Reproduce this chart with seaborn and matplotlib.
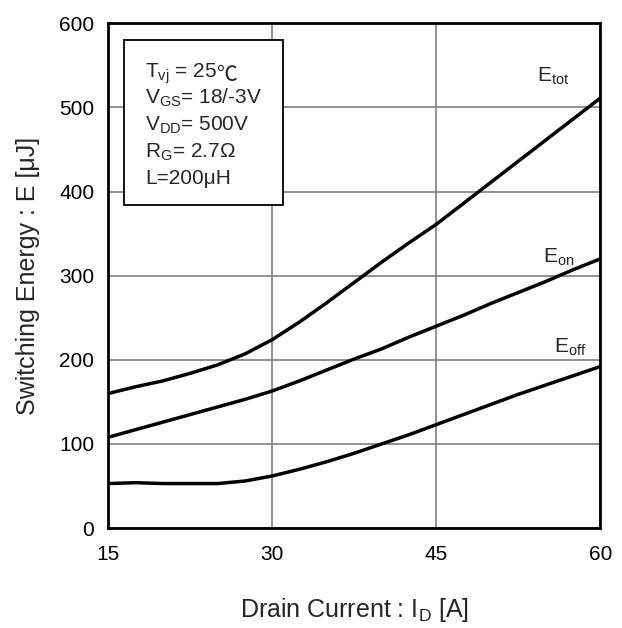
import pandas as pd
import numpy as np
import seaborn as sns
import matplotlib.pyplot as plt
from matplotlib.patches import Rectangle

# drain current [A]
current = [15, 17.5, 20, 22.5, 25, 27.5, 30, 32.5, 35, 37.5, 40,
           42.5, 45, 47.5, 50, 52.5, 55, 57.5, 60]
# switching energies [uJ]
e_tot = [160, 168, 175, 184, 194, 207, 224, 245, 268, 292, 316,
         339, 361, 386, 411, 436, 461, 486, 511]
e_on = [108, 117, 126, 135, 144, 153, 163, 175, 188, 201, 213,
        227, 240, 253, 267, 280, 293, 307, 320]
e_off = [53, 54, 53, 53, 53, 56, 62, 70, 79, 89, 100,
         111, 123, 135, 147, 159, 170, 181, 192]

x_ticks = [15, 30, 45, 60]
y_ticks = [0, 100, 200, 300, 400, 500, 600]

sns.set_theme(style='white')
plt.rcParams['font.family'] = ['Liberation Sans', 'DejaVu Sans']
plt.rcParams['mathtext.fontset'] = 'custom'
plt.rcParams['mathtext.rm'] = 'Liberation Sans'
plt.rcParams['mathtext.it'] = 'Liberation Sans'

df = pd.DataFrame({'I': current, 'Etot': e_tot, 'Eon': e_on, 'Eoff': e_off})

fig = plt.figure(figsize=(6.22, 6.28), dpi=100)
ax = fig.add_axes([0.174, 0.159, 0.791, 0.804])

for col in ['Etot', 'Eon', 'Eoff']:
    sns.lineplot(data=df, x='I', y=col, ax=ax, color='black', linewidth=2.5)

ax.set_xlim(15, 60)
ax.set_ylim(0, 600)
ax.set_xticks(x_ticks)
ax.set_yticks(y_ticks)
ax.grid(True, color='#888888', linewidth=1.3)
ax.set_axisbelow(True)
for s in ax.spines.values():
    s.set_color('black')
    s.set_linewidth(2)
ax.tick_params(length=0, labelsize=15, colors='black')
ax.tick_params(axis='x', pad=12)
ax.tick_params(axis='y', pad=10)

ax.set_xlabel(r'Drain Current : I$_\mathregular{D}$ [A]', fontsize=18, labelpad=23)
ax.set_ylabel('Switching Energy : E [μJ]', fontsize=18, labelpad=14)

ax.text(54.2, 531, r'E$_\mathregular{tot}$', fontsize=15, va='baseline')
ax.text(54.8, 316, r'E$_\mathregular{on}$', fontsize=15, va='baseline')
ax.text(55.8, 208, r'E$_\mathregular{off}$', fontsize=15, va='baseline')

# conditions box
ax.add_patch(Rectangle((0.0325, 0.640), 0.3235, 0.326, transform=ax.transAxes,
                       facecolor='white', edgecolor='black', linewidth=1.3, zorder=3))
cond_lines = [r'T$_\mathregular{vj}$ = 25',
              r'V$_\mathregular{GS}$= 18/-3V',
              r'V$_\mathregular{DD}$= 500V',
              r'R$_\mathregular{G}$= 2.7Ω',
              'L=200μH']
for i, line in enumerate(cond_lines):
    t = ax.text(0.075, 0.893 - i * 0.0529, line, transform=ax.transAxes,
                fontsize=15, va='baseline', ha='left', zorder=4)
    if i == 0:
        ax.annotate('℃', xy=(1, 0), xycoords=t, va='bottom', ha='left',
                    fontsize=15, family=['Noto Sans CJK SC', 'DejaVu Sans'],
                    zorder=4)

plt.savefig('out.png', format='png')
